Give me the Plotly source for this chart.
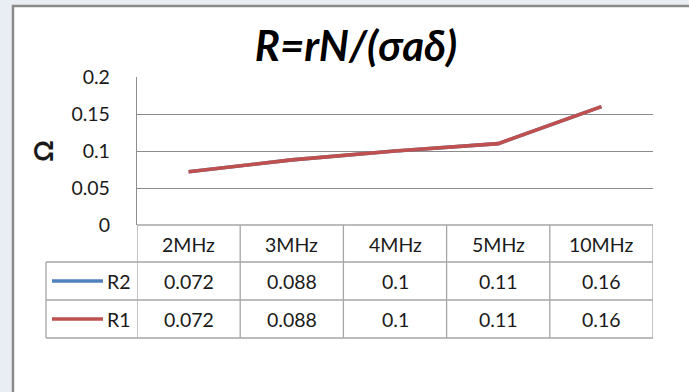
import plotly.graph_objects as go

# Frequencies and computed resistance R = rN/(sigma*a*delta)
categories = ["2MHz", "3MHz", "4MHz", "5MHz", "10MHz"]
r2_values = [0.072, 0.088, 0.1, 0.11, 0.16]
r1_values = [0.072, 0.088, 0.1, 0.11, 0.16]
series = [("R2", r2_values, "#4F81BD"), ("R1", r1_values, "#C0504D")]
y_ticks = [0, 0.05, 0.1, 0.15, 0.2]

W, H = 689, 392
L, R, T, B = 137, 653, 77, 225          # plot area in pixels
pw, ph = R - L, B - T

def px_x(p):   # pixel -> paper x
    return (p - L) / pw

def px_y(p):   # pixel -> paper y
    return (B - p) / ph

FONT = "Lato, 'Open Sans', sans-serif"
TXT = "#1a1a1a"
GRID = "#8c8c8c"
TABLE = "#a6a6a6"
TSIZE = 19.5

fig = go.Figure()
for name, vals, col in series:
    fig.add_trace(go.Scatter(
        x=categories, y=vals, mode="lines", name=name,
        line=dict(color=col, width=3.6), showlegend=False,
    ))

shapes = []
annotations = []

# chart frame
shapes.append(dict(type="rect", xref="paper", yref="paper",
                   x0=px_x(13), x1=px_x(W + 20), y0=px_y(H + 20), y1=px_y(6),
                   line=dict(color="#8a8a8a", width=2.5), fillcolor="white",
                   layer="below"))

# data table rows (header + one row per series)
row_edges = [225, 262, 300, 338]
label_left = 46
n = len(categories)

# vertical lines of the table
for i in range(n + 1):
    shapes.append(dict(type="line", xref="x", yref="paper",
                       x0=i - 0.5, x1=i - 0.5,
                       y0=px_y(row_edges[-1]), y1=px_y(row_edges[0]),
                       line=dict(color=TABLE, width=1.3)))
shapes.append(dict(type="line", xref="paper", yref="paper",
                   x0=px_x(label_left), x1=px_x(label_left),
                   y0=px_y(row_edges[-1]), y1=px_y(row_edges[1]),
                   line=dict(color=TABLE, width=1.3)))
# horizontal lines of the table
for k, yy in enumerate(row_edges):
    x0 = 0 if k == 0 else px_x(label_left)
    shapes.append(dict(type="line", xref="paper", yref="paper",
                       x0=x0, x1=1, y0=px_y(yy), y1=px_y(yy),
                       line=dict(color=TABLE, width=1.3)))

# header row: category names
hdr_mid = (row_edges[0] + row_edges[1]) / 2 + 1
for c in categories:
    annotations.append(dict(x=c, y=px_y(hdr_mid), xref="x", yref="paper",
                            text=c, showarrow=False,
                            xanchor="center", yanchor="middle",
                            font=dict(family=FONT, size=TSIZE, color=TXT)))

# series rows: legend key, name and values
for r, (name, vals, col) in enumerate(series):
    mid = (row_edges[r + 1] + row_edges[r + 2]) / 2
    shapes.append(dict(type="line", xref="paper", yref="paper",
                       x0=px_x(52), x1=px_x(103), y0=px_y(mid), y1=px_y(mid),
                       line=dict(color=col, width=3.6)))
    annotations.append(dict(x=px_x(133), y=px_y(mid), xref="paper", yref="paper",
                            text=name, showarrow=False,
                            xanchor="right", yanchor="middle",
                            font=dict(family=FONT, size=TSIZE, color=TXT)))
    for c, v in zip(categories, vals):
        annotations.append(dict(x=c, y=px_y(mid), xref="x", yref="paper",
                                text=f"{v:g}", showarrow=False,
                                xanchor="center", yanchor="middle",
                                font=dict(family=FONT, size=TSIZE, color=TXT)))

# axis title
annotations.append(dict(x=px_x(42), y=px_y(151), xref="paper", yref="paper",
                        text="<b>Ω</b>", showarrow=False, textangle=-90,
                        xanchor="center", yanchor="middle",
                        font=dict(family=FONT, size=27, color=TXT)))

fig.update_layout(
    width=W, height=H,
    margin=dict(l=L, r=W - R, t=T, b=H - B, pad=0),
    paper_bgcolor="#e9eef4", plot_bgcolor="rgba(0,0,0,0)",
    title=dict(text="<b><i>R=rN/(σaδ)</i></b>", x=px_x(356), xref="paper",
               xanchor="center", y=1 - 46 / H, yref="container", yanchor="middle",
               font=dict(family=FONT, size=42, color="#000000")),
    xaxis=dict(type="category", range=[-0.5, n - 0.5], showgrid=False,
               showticklabels=False, ticks="", zeroline=False, showline=False),
    yaxis=dict(range=[0, 0.2], tickvals=y_ticks,
               ticktext=[f"{t:g}" for t in y_ticks],
               showgrid=True, gridcolor=GRID, gridwidth=1.2,
               zeroline=False, showline=True, linecolor=GRID, linewidth=1.3,
               ticks="", ticklabelstandoff=22,
               tickfont=dict(family=FONT, size=19.5, color=TXT)),
    shapes=shapes, annotations=annotations,
)

fig.write_html("out.html")
